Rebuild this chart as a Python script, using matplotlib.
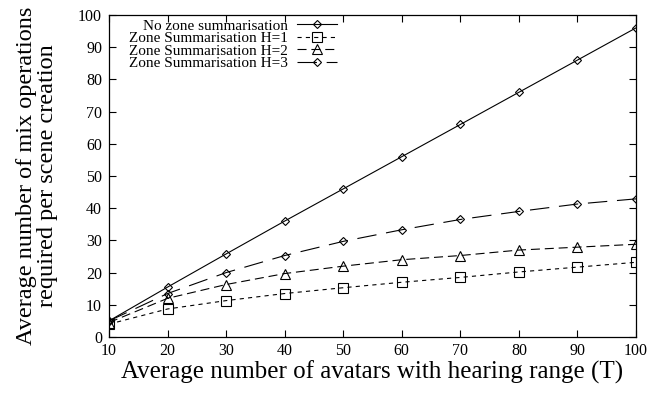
import matplotlib
matplotlib.use("Agg")
import matplotlib.pyplot as plt

plt.rcParams["font.family"] = ["Liberation Serif", "DejaVu Serif"]
plt.rcParams["lines.scale_dashes"] = False

avatars = [10, 20, 30, 40, 50, 60, 70, 80, 90, 100]
no_zone = [5, 15.5, 25.8, 36, 46, 56, 66, 76, 86, 96]
zone_h1 = [4, 8.7, 11.3, 13.5, 15.3, 17, 18.5, 20.2, 21.7, 23.2]
zone_h2 = [4.5, 12, 16.3, 19.7, 22, 24, 25.3, 27, 27.9, 28.8]
zone_h3 = [5, 13.5, 20, 25.3, 29.7, 33.3, 36.5, 39, 41.3, 42.9]

labels = [
    "No zone summarisation",
    "Zone Summarisation H=1",
    "Zone Summarisation H=2",
    "Zone Summarisation H=3",
]

W, H = 663, 393
# axes box in pixels (left, top, right, bottom)
L, T, R, B = 109, 15, 636, 337

fig = plt.figure(figsize=(W / 100, H / 100), dpi=100)
ax = fig.add_axes([L / W, 1 - B / H, (R - L) / W, (B - T) / H])

line_kw = dict(color="black", lw=0.8, mec="black", mew=0.8, mfc="none")
ax.plot(avatars, no_zone, ls="-", marker="D", ms=4.2, label=labels[0], **line_kw)
ax.plot(avatars, zone_h1, ls=(0, (3, 3)), marker="s", ms=6.5, label=labels[1], **line_kw)
ax.plot(avatars, zone_h2, ls=(0, (6.5, 3.5)), marker="^", ms=7.5, label=labels[2], **line_kw)
ax.plot(avatars, zone_h3, ls=(0, (14, 7)), marker="D", ms=4.2, label=labels[3], **line_kw)

ax.set_xlim(10, 100)
ax.set_ylim(0, 100)
ax.set_xticks(avatars)
ax.set_yticks(range(0, 101, 10))
ax.tick_params(direction="in", length=5, width=0.8, labelsize=11.5,
               top=True, right=True, pad=5)
ax.tick_params(axis="x", pad=4)
for s in ax.spines.values():
    s.set_linewidth(0.9)

ax.set_xlabel("Average number of avatars with hearing range (T)", fontsize=18)
ax.xaxis.set_label_coords(0.5, -(361 - B) / (B - T))
ax.set_ylabel("Average number of mix operations\nrequired per scene creation",
              fontsize=17.5, linespacing=1.0)
ax.yaxis.set_label_coords(-(L - 58) / (R - L), 0.5)

ax.legend(loc="upper right", bbox_to_anchor=((337 - L) / (R - L), 1 - (19 - T) / (B - T)),
          frameon=False, markerfirst=False, fontsize=11, labelspacing=-0.08,
          handlelength=2.6, handletextpad=0.6, numpoints=1,
          borderaxespad=0, borderpad=0)

fig.savefig("out.png", dpi=100)
